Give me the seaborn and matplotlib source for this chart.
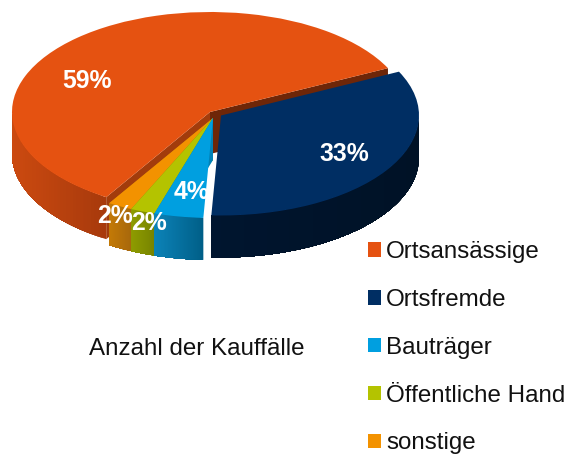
import matplotlib
matplotlib.use("Agg")
import matplotlib.pyplot as plt
import numpy as np
import seaborn as sns

names = ["Ortsansässige", "Ortsfremde", "Bauträger", "Öffentliche Hand", "sonstige"]
shares = [59, 33, 4, 2, 2]
title = "Anzahl der Kauffälle"

top_colors = ["#E55211", "#002E63", "#009FE0", "#B4C300", "#F39200"]
rim_left = ["#CC4A10", "#00152F", "#0C83B8", "#8F9C00", "#C47A06"]
rim_right = ["#A83A0C", "#001226", "#005F88", "#788400", "#A8680C"]
wall_colors = ["#6E2608", None, "#0082B8", "#8F9C00", "#C47A06"]

W, H = 568, 454
CX, CY, RX, RY = 212, 113, 198, 100
DEPTH = 0.42

sns.set_theme(style="white")
plt.rcParams["font.family"] = ["Liberation Sans", "DejaVu Sans"]


def px(x, y):
    return (x - CX) / RX, (CY - y) / RY


def ring(w, t):
    a = np.radians(t)
    return w.center[0] + w.r * np.cos(a), w.center[1] + w.r * np.sin(a)


def draw_wall(ax, w, angle, color, z):
    x0, y0 = w.center
    x1, y1 = ring(w, angle)
    ax.fill([x0, x1, x1, x0], [y0, y1, y1 - DEPTH, y0 - DEPTH], color=color, lw=0, zorder=z)


def draw_rim(ax, w, c0, c1, z):
    ts = np.linspace(w.theta1, w.theta2, 160)
    ts = ts[np.sin(np.radians(ts)) <= 0]
    if len(ts) < 2:
        return
    c0, c1 = np.array(matplotlib.colors.to_rgb(c0)), np.array(matplotlib.colors.to_rgb(c1))
    xs, ys = ring(w, ts)
    left, right = xs.min(), xs.max()
    # walk from the right so each piece overlaps the last, no seams
    order = np.argsort(-xs)
    xs, ys = xs[order], ys[order]
    for i in range(len(xs) - 1):
        f = (xs[i] - left) / (right - left)
        col = c0 + (c1 - c0) * f
        x_top, y_top = xs[i:], ys[i:]
        ax.fill(
            np.r_[x_top, x_top[::-1]],
            np.r_[y_top, y_top[::-1] - DEPTH],
            color=col, lw=0, zorder=z,
        )


fig = plt.figure(figsize=(W / 100, H / 100), dpi=100)
ax = fig.add_axes([0, 0, 1, 1])

wedges, _, autotexts = ax.pie(
    shares,
    labels=names,
    labeldistance=None,
    colors=sns.color_palette(top_colors),
    startangle=238.4,
    counterclock=False,
    autopct="%1.0f%%",
    textprops={"color": "white", "fontweight": "bold", "fontsize": 17.8},
)
ax.set_aspect("auto")
ax.set_xlim(px(0, 0)[0], px(W, 0)[0])
ax.set_ylim(px(0, H)[1], px(0, 0)[1])
ax.set_axis_off()

# slices are pulled apart a little, the three small ones share one tip
tips = [(210, 112), (221, 115.5), (213, 118), (213, 118), (213, 118)]
for w, t in zip(wedges, tips):
    w.set_center(px(*t))
    w.set_edgecolor("none")

# painted back to front
main, navy, blue, green, small = wedges
draw_wall(ax, main, main.theta1, "#6E2608", 2)
draw_wall(ax, main, main.theta2, "#A23C0C", 2)
draw_rim(ax, main, rim_left[0], rim_right[0], 3)
main.set_zorder(4)

z = 5
for i in [4, 3, 2]:
    w = wedges[i]
    draw_wall(ax, w, w.theta1, wall_colors[i], z)
    draw_rim(ax, w, rim_left[i], rim_right[i], z + 1)
    w.set_zorder(z + 2)
    z += 3

draw_rim(ax, navy, rim_left[1], rim_right[1], z)
navy.set_zorder(z + 1)

label_pos = [(87, 81), (344, 154), (191, 192), (149, 223), (115, 216)]
for txt, p in zip(autotexts, label_pos):
    txt.set_position(px(*p))
    txt.set_ha("center")
    txt.set_va("center")
    txt.set_zorder(30)

ax.text(*px(89, 349), title, fontsize=17.4, color="#111111", ha="left", va="center")

ax.legend(
    handles=wedges,
    labels=names,
    loc="upper left",
    bbox_to_anchor=(368 / W, 1 - 241 / H),
    frameon=False,
    fontsize=17.4,
    borderpad=0,
    borderaxespad=0,
    handlelength=0.54,
    handleheight=0.54,
    handletextpad=0.2,
    labelspacing=1.07,
    labelcolor="#111111",
)

fig.savefig("out.png", dpi=100)
